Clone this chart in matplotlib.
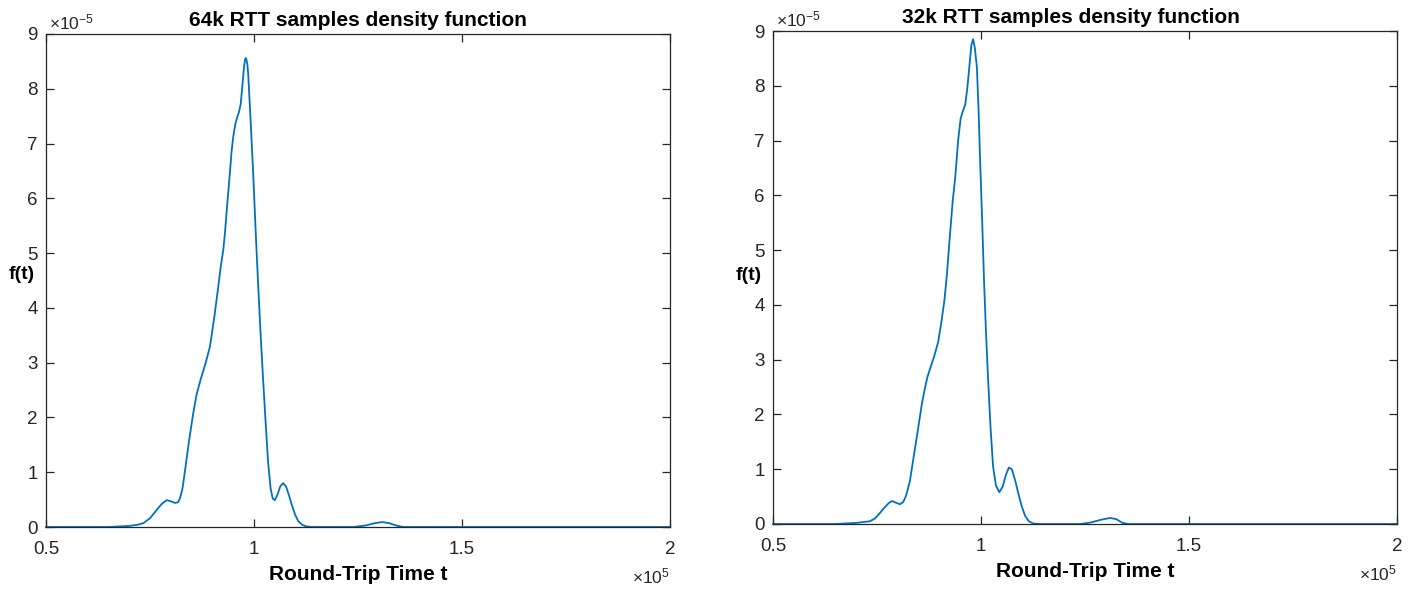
import numpy as np
import matplotlib.pyplot as plt
from matplotlib.ticker import FuncFormatter

# Round-trip time in units of 1e5, density in units of 1e-5
t_64k = [0.50, 0.65, 0.70, 0.720, 0.734, 0.750, 0.766, 0.778, 0.790, 0.800,
         0.810, 0.817, 0.822, 0.828, 0.834, 0.844, 0.854, 0.862, 0.872, 0.884,
         0.894, 0.904, 0.913, 0.920, 0.926, 0.930, 0.936, 0.942, 0.946, 0.950,
         0.955, 0.960, 0.964, 0.968, 0.972, 0.976, 0.979, 0.981, 0.984, 0.986,
         0.992, 0.998, 1.004, 1.010, 1.016, 1.022, 1.028, 1.034, 1.040, 1.045,
         1.050, 1.056, 1.063, 1.070, 1.077, 1.084, 1.091, 1.099, 1.107, 1.116,
         1.126, 1.14, 1.24, 1.27, 1.29, 1.308, 1.325, 1.345, 1.36, 2.0]
f_64k = [0.0, 0.0, 0.02, 0.04, 0.07, 0.16, 0.31, 0.42, 0.49, 0.47,
         0.44, 0.45, 0.52, 0.70, 1.02, 1.58, 2.08, 2.42, 2.70, 3.00,
         3.29, 3.80, 4.32, 4.75, 5.05, 5.35, 5.92, 6.46, 6.85, 7.12,
         7.35, 7.49, 7.58, 7.72, 8.05, 8.40, 8.55, 8.56, 8.45, 8.28,
         7.40, 6.46, 5.40, 4.42, 3.50, 2.68, 1.90, 1.17, 0.70, 0.52,
         0.49, 0.58, 0.74, 0.80, 0.74, 0.58, 0.40, 0.22, 0.10, 0.04,
         0.01, 0.0, 0.0, 0.03, 0.07, 0.09, 0.07, 0.02, 0.0, 0.0]

t_32k = [0.50, 0.65, 0.70, 0.733, 0.745, 0.757, 0.768, 0.778, 0.786, 0.795,
         0.805, 0.813, 0.820, 0.829, 0.838, 0.849, 0.858, 0.865, 0.871, 0.877,
         0.887, 0.897, 0.905, 0.912, 0.918, 0.925, 0.932, 0.938, 0.945, 0.951,
         0.957, 0.962, 0.967, 0.972, 0.977, 0.981, 0.985, 0.990, 0.994, 0.998,
         1.003, 1.007, 1.012, 1.017, 1.023, 1.029, 1.036, 1.044, 1.052, 1.060,
         1.067, 1.074, 1.082, 1.090, 1.098, 1.106, 1.115, 1.125, 1.14, 1.24,
         1.265, 1.29, 1.31, 1.325, 1.34, 1.355, 2.0]
f_32k = [0.0, 0.0, 0.02, 0.05, 0.10, 0.20, 0.30, 0.38, 0.42, 0.39,
         0.36, 0.40, 0.52, 0.78, 1.22, 1.75, 2.20, 2.47, 2.68, 2.82,
         3.05, 3.32, 3.70, 4.08, 4.55, 5.24, 5.90, 6.32, 7.00, 7.40,
         7.55, 7.65, 7.95, 8.35, 8.75, 8.85, 8.70, 8.35, 7.60, 6.60,
         5.50, 4.50, 3.50, 2.65, 1.75, 1.05, 0.70, 0.58, 0.68, 0.90,
         1.03, 1.00, 0.80, 0.55, 0.32, 0.15, 0.05, 0.01, 0.0, 0.0,
         0.03, 0.08, 0.11, 0.09, 0.02, 0.0, 0.0]

titles = ['64k RTT samples density function', '32k RTT samples density function']
x_ticks = [0.5, 1.0, 1.5, 2.0]
y_ticks = list(range(10))

plt.rcParams['font.family'] = ['Liberation Sans', 'DejaVu Sans']
plt.rcParams['mathtext.default'] = 'regular'

fig = plt.figure(figsize=(14.14, 5.90), dpi=100)
dark = '#262626'
line_color = '#0072BD'

axes_pos = [[46 / 1414, 63 / 590, 624 / 1414, 493 / 590],
            [773 / 1414, 66 / 590, 624 / 1414, 493 / 590]]
title_x = [0.5, 0.478]
ylabel_y = [0.512, 0.505]
series = [(t_64k, f_64k), (t_32k, f_32k)]

fmt = FuncFormatter(lambda v, p: '%g' % v)

for i in range(2):
    ax = fig.add_axes(axes_pos[i])
    t, f = series[i]
    ax.plot(t, f, color=line_color, linewidth=1.3, clip_on=False)
    ax.set_xlim(0.5, 2.0)
    ax.set_ylim(0, 9)
    ax.set_xticks(x_ticks)
    ax.set_yticks(y_ticks)
    ax.xaxis.set_major_formatter(fmt)
    ax.yaxis.set_major_formatter(fmt)
    ax.tick_params(direction='in', length=6, width=0.9, color=dark,
                   labelcolor=dark, labelsize=13.5, top=True, right=True)
    ax.tick_params(axis='x', pad=10)
    ax.tick_params(axis='y', pad=6)
    for s in ax.spines.values():
        s.set_color(dark)
        s.set_linewidth(0.9)

    ax.set_title(titles[i], fontsize=15, fontweight='bold', x=title_x[i], pad=6)
    ax.set_xlabel('Round-Trip Time t', fontsize=15, fontweight='bold', labelpad=5)
    ax.set_ylabel('f(t)', fontsize=14, fontweight='bold', rotation=0,
                  ha='right', va='center')
    ax.yaxis.set_label_coords(-0.018, ylabel_y[i])

    ax.text(0.005, 1.004, r'$\times10^{-5}$', transform=ax.transAxes,
            ha='left', va='bottom', fontsize=12.5, color=dark)
    ax.text(1.0, -0.08, r'$\times10^{5}$', transform=ax.transAxes,
            ha='right', va='top', fontsize=12.5, color=dark)

fig.savefig('out.png', dpi=100, facecolor='white')
